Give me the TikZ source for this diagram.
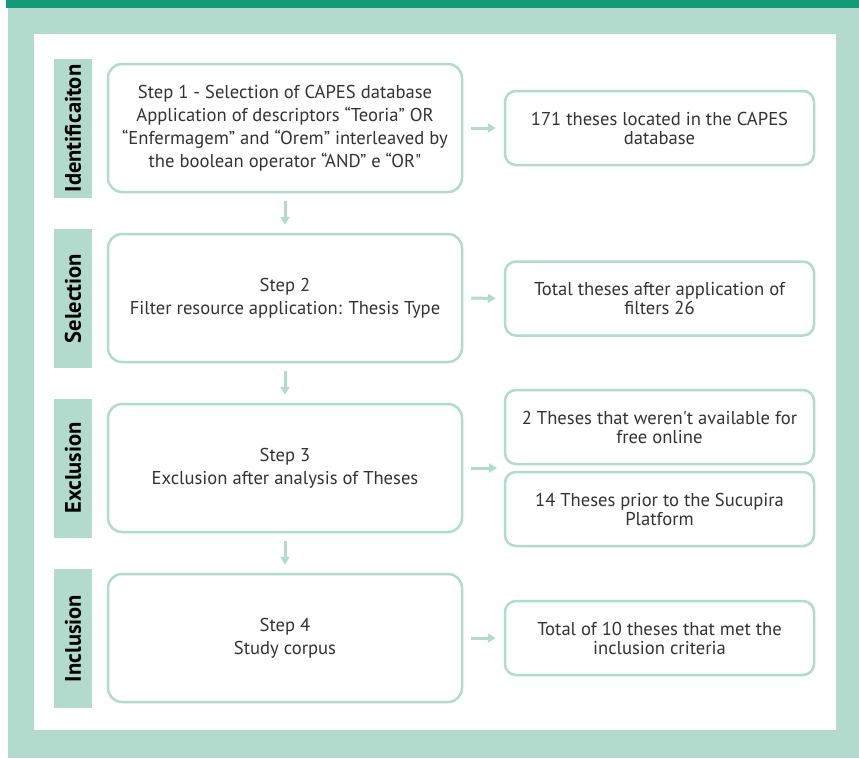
\documentclass[tikz,border=0pt]{standalone}
\usepackage{fontspec}
\setmainfont{PT Sans}[Ligatures=TeXOff]
\usetikzlibrary{arrows.meta}
\definecolor{darkgreen}{HTML}{129B76}
\definecolor{lightgreen}{HTML}{B2DBCD}
\definecolor{txt}{HTML}{333333}
\tikzset{
  stepbox/.style={draw=lightgreen,line width=2.5pt,rounded corners=14pt,fill=white,
    minimum width=354pt,minimum height=128pt,align=center,text=txt,font=\fontsize{18.6}{23}\selectfont,inner sep=0pt},
  resbox/.style={draw=lightgreen,line width=2.5pt,rounded corners=11pt,fill=white,
    minimum width=309pt,minimum height=74pt,align=center,text=txt,font=\fontsize{18.6}{19}\selectfont,inner sep=0pt},
  phase/.style={fill=lightgreen,rotate=90,minimum width=139pt,minimum height=38pt,inner sep=0pt,
    font=\fontsize{22.5}{22.5}\selectfont\bfseries,text=black},
  flow/.style={draw=lightgreen,line width=3pt,-{Triangle[length=8pt,width=9pt]},shorten <=8pt,shorten >=8pt}
}
\begin{document}
\begin{tikzpicture}[x=1pt,y=-1pt]
\useasboundingbox (0,0) rectangle (859,758);
\fill[white] (0,0) rectangle (859,758);
\fill[lightgreen] (8,8) rectangle (859,758);
\fill[darkgreen] (6,0) rectangle (859,8);
\fill[white] (34,34) rectangle (836,730);
% phase labels
\node[phase] (p1) at (73,128.5) {Identificaiton};
\node[phase] (p2) at (73,298.5) {Selection};
\node[phase] (p3) at (73,468) {Exclusion};
\node[phase] (p4) at (73,638.5) {Inclusion};
% main steps
\node[stepbox] (s1) at (285,128) {Step 1 - Selection of CAPES database\\Application of descriptors “Teoria” OR\\“Enfermagem” and “Orem” interleaved by\\the boolean operator “AND” e “OR"};
\node[stepbox] (s2) at (285,298) {Step 2\\Filter resource application: Thesis Type};
\node[stepbox] (s3) at (285,468) {Step 3\\Exclusion after analysis of Theses};
\node[stepbox] (s4) at (285,638) {Step 4\\Study corpus};
% results
\node[resbox] (r1) at (659.5,128) {171 theses located in the CAPES\\database};
\node[resbox] (r2) at (659.5,298.5) {Total theses after application of\\filters 26};
\node[resbox] (r3a) at (659.5,427) {2 Theses that weren't available for\\free online};
\node[resbox] (r3b) at (659.5,509) {14 Theses prior to the Sucupira\\Platform};
\node[resbox] (r4) at (659.5,638) {Total of 10 theses that met the\\inclusion criteria};
\coordinate (c3) at (505,468);
% connectors
\draw[flow] (s1) -- (s2);
\draw[flow] (s2) -- (s3);
\draw[flow] (s3) -- (s4);
\draw[flow] (s1) -- (r1);
\draw[flow] (s2.east) -- (r2.west);
\draw[flow] (s3.east) -- (c3);
\draw[flow] (s4) -- (r4);
\end{tikzpicture}
\end{document}
